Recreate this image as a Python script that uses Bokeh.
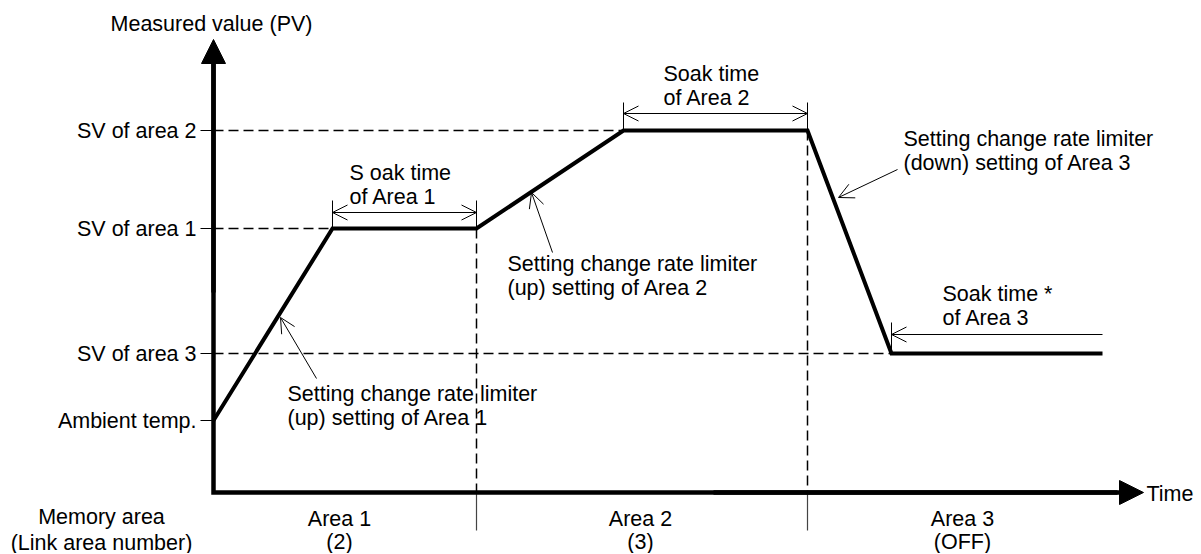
from bokeh.plotting import figure
from bokeh.models import Range1d, Arrow, NormalHead, OpenHead
from bokeh.core.properties import value
from bokeh.embed import file_html
from bokeh.resources import INLINE

FONT = "Liberation Sans"
FS = "21.5px"

# ---- data: setpoint profile (time units, PV units) ----
time_pts = [0, 11.9, 26.3, 41.0, 59.4, 67.8, 88.9]
pv_vals = [36, 132, 132, 181, 181, 69.5, 69.5]

level_names = ["SV of area 2", "SV of area 1", "SV of area 3", "Ambient temp."]
level_vals = [181, 132, 69.5, 36]
level_reach = [41.0, 11.9, 67.8, 0.0]

area_bounds = [26.3, 59.4]
area_names = ["Area 1", "Area 2", "Area 3"]
area_links = ["(2)", "(3)", "(OFF)"]
area_centers = [12.6, 42.7, 74.9]

axis_top = 226.5
axis_right = 93.0
below_axis = -19

soak_line1 = ["S oak time", "Soak time", "Soak time *"]
soak_line2 = ["of Area 1", "of Area 2", "of Area 3"]
soak_from = [11.9, 41.0, 88.9]
soak_to = [26.3, 59.4, 67.8]
soak_both = [True, True, False]
soak_y = [140, 189.5, 79]
soak_tick_top = [146, 195, 85]
soak_text_x = [13.6, 45.0, 72.9]
soak_text_y = [160, 209.5, 99.5]

note_line1 = ["Setting change rate limiter"] * 3
note_line2 = ["(up) setting of Area 1", "(up) setting of Area 2", "(down) setting of Area 3"]
note_x = [7.4, 29.4, 69.0]
note_y = [49.5, 114.5, 177]
leader_x0 = [10.3, 33.9, 68.4]
leader_y0 = [57, 120, 161.5]
leader_x1 = [6.7, 31.8, 62.5]
leader_y1 = [87.5, 150, 147.5]

LINE_GAP = 12

p = figure(width=1200, height=553, output_backend="svg", toolbar_location=None,
           x_range=Range1d(-21.3, 98.7), y_range=Range1d(-30.5, 246),
           x_axis_type=None, y_axis_type=None, min_border=0)
p.outline_line_color = None
p.grid.visible = False

# dashed level lines
for lv, reach in zip(level_vals, level_reach):
    if reach > 0:
        p.line([0, reach], [lv, lv], line_color="black", line_width=1.5, line_dash="10 5")
# dashed area boundaries
for b in area_bounds:
    top = pv_vals[time_pts.index(b)]
    p.line([b, b], [top, 0], line_color="black", line_width=1.5, line_dash="10 5")
    p.line([b, b], [0, below_axis], line_color="#444444", line_width=1.2)

# level ticks + labels
for name, lv in zip(level_names, level_vals):
    p.line([-1.3, 0], [lv, lv], line_color="black", line_width=1)
p.text(x=[-1.7] * 4, y=level_vals, text=level_names, text_align="right", text_baseline="middle",
       text_font=value(FONT), text_font_size=FS, text_color="black")

# profile
p.line(time_pts, pv_vals, line_color="black", line_width=4, line_join="miter")

# axes
p.line([0, 0, axis_right - 2.6], [axis_top - 12, 0, 0], line_color="black", line_width=4.5, line_join="miter")
p.add_layout(Arrow(x_start=0, y_start=100, x_end=0, y_end=axis_top, line_width=4.5,
                   end=NormalHead(size=24, fill_color="black", line_color="black", line_width=1)))
p.add_layout(Arrow(x_start=50, y_start=0, x_end=axis_right, y_end=0, line_width=4.5,
                   end=NormalHead(size=24, fill_color="black", line_color="black", line_width=1)))

p.text(x=[-0.2], y=[234.5], text=["Measured value (PV)"], text_align="center", text_baseline="middle",
       text_font=value(FONT), text_font_size=FS)
p.text(x=[axis_right + 0.3], y=[-0.5], text=["Time"], text_align="left", text_baseline="middle",
       text_font=value(FONT), text_font_size=FS)

# bottom labels
p.text(x=[-11.2], y=[-12], text=["Memory area"], text_align="center", text_baseline="middle",
       text_font=value(FONT), text_font_size=FS)
p.text(x=[-11.2], y=[-25], text=["(Link area number)"], text_align="center", text_baseline="middle",
       text_font=value(FONT), text_font_size=FS)
p.text(x=area_centers, y=[-13] * 3, text=area_names, text_align="center", text_baseline="middle",
       text_font=value(FONT), text_font_size=FS)
p.text(x=area_centers, y=[-24.5] * 3, text=area_links, text_align="center", text_baseline="middle",
       text_font=value(FONT), text_font_size=FS)

# soak time dimension arrows
for x0, x1, both, y, tt in zip(soak_from, soak_to, soak_both, soak_y, soak_tick_top):
    p.add_layout(Arrow(x_start=x0, y_start=y, x_end=x1, y_end=y, line_width=1, line_color="black",
                       start=OpenHead(size=15, line_width=1) if both else None,
                       end=OpenHead(size=15, line_width=1)))
    ticks = [x0, x1] if both else [x1]
    for tx in ticks:
        base = pv_vals[time_pts.index(tx)]
        p.line([tx, tx], [base, tt], line_color="black", line_width=1)
p.text(x=soak_text_x, y=soak_text_y, text=soak_line1, text_align="left", text_baseline="middle",
       text_font=value(FONT), text_font_size=FS)
p.text(x=soak_text_x, y=[v - LINE_GAP for v in soak_text_y], text=soak_line2, text_align="left",
       text_baseline="middle", text_font=value(FONT), text_font_size=FS)

# ramp notes with leaders
for x0, y0, x1, y1 in zip(leader_x0, leader_y0, leader_x1, leader_y1):
    p.add_layout(Arrow(x_start=x0, y_start=y0, x_end=x1, y_end=y1, line_width=1, line_color="black",
                       end=OpenHead(size=15, line_width=1)))
p.text(x=note_x, y=note_y, text=note_line1, text_align="left", text_baseline="middle",
       text_font=value(FONT), text_font_size=FS)
p.text(x=note_x, y=[v - LINE_GAP for v in note_y], text=note_line2, text_align="left",
       text_baseline="middle", text_font=value(FONT), text_font_size=FS)

open("out.html", "w").write(file_html(p, INLINE))
